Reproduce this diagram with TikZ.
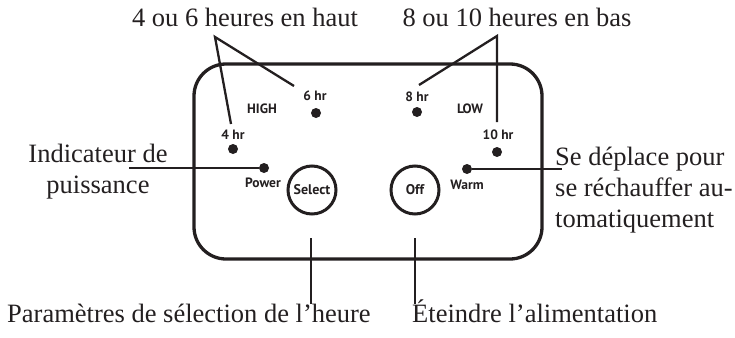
\documentclass[tikz,border=0pt]{standalone}
\usepackage{fontspec}
\setmainfont{Liberation Serif}
\newfontfamily\panelfont{PT Sans}
\usetikzlibrary{positioning}
\definecolor{inkdark}{RGB}{35,31,32}

\begin{document}
\begin{tikzpicture}[x=1pt, y=-1pt,
    panel/.style={draw=inkdark, line width=3.3pt, rounded corners=32pt, minimum width=348pt, minimum height=195pt, inner sep=0pt},
    button/.style={draw=inkdark, circle, line width=3pt, minimum size=48pt, inner sep=0pt, text=inkdark, font=\panelfont\bfseries\fontsize{14}{16}\selectfont},
    led/.style={circle, fill=inkdark, minimum size=10pt, inner sep=0pt},
    tag/.style={text=inkdark, inner sep=0pt, font=\panelfont\bfseries\fontsize{13.5}{16}\selectfont},
    caption/.style={text=inkdark, inner sep=0pt, font=\fontsize{26.5}{31}\selectfont},
    leader/.style={draw=inkdark, line width=2.3pt}
]
\useasboundingbox (0,0) rectangle (735,337);

% Panel
\node[panel] (panel) at (368,161.5) {};

% Buttons
\node[button] (select) at (312,190) {Select};
\node[button] (off) at (415,190) {Off};

% Indicator lights
\node[tag] (high) at (262,109) {HIGH};
\node[tag] (low) at (470,109) {LOW};
\node[tag] (hr4) at (233,135) {4 hr};
\node[led] (led4) at (233,149) {};
\node[tag] (hr6) at (315,96) {6 hr};
\node[led] (led6) at (316,113) {};
\node[tag] (hr8) at (417,97) {8 hr};
\node[led] (led8) at (417,112) {};
\node[tag] (hr10) at (498,135) {10 hr};
\node[led] (led10) at (497,152) {};
\node[led] (ledpower) at (264,168) {};
\node[tag] (power) at (263,183) {Power};
\node[led] (ledwarm) at (467,169) {};
\node[tag] (warm) at (467,185) {Warm};

% Captions
\node[caption, anchor=base] (haut) at (245,27) {4 ou 6 heures en haut};
\node[caption, anchor=base] (bas) at (517,27) {8 ou 10 heures en bas};
\node[caption, align=center] (indic) at (98,172) {Indicateur de\\puissance};
\node[caption, align=left, anchor=west] (rechauffe) at (555,190) {Se déplace pour\\se réchauffer au-\\tomatiquement};
\node[caption, anchor=base west] (reglage) at (7,322) {Paramètres de sélection de l’heure};
\node[caption, anchor=base west] (eteindre) at (412,322) {Éteindre l’alimentation};

% Leader ends
\coordinate (hautapex) at (215,37);
\coordinate (basapex) at (497,36);
\coordinate (tip4) at (231,124);
\coordinate (tip6) at (294,86);
\coordinate (tip8) at (419,85);
\coordinate (tip10) at (497,122);
\coordinate (powerend) at (129,168);
\coordinate (warmend) at (562,169);
\coordinate (selecttop) at (311,238);
\coordinate (selectend) at (311,304);
\coordinate (offtop) at (415,238);
\coordinate (offend) at (415,304);

% Leaders
\draw[leader] (tip4) -- (hautapex) -- (tip6);
\draw[leader] (tip8) -- (basapex) -- (tip10);
\draw[leader] (powerend) -- (ledpower);
\draw[leader] (ledwarm) -- (warmend);
\draw[leader] (selecttop) -- (selectend);
\draw[leader] (offtop) -- (offend);

\end{tikzpicture}
\end{document}
